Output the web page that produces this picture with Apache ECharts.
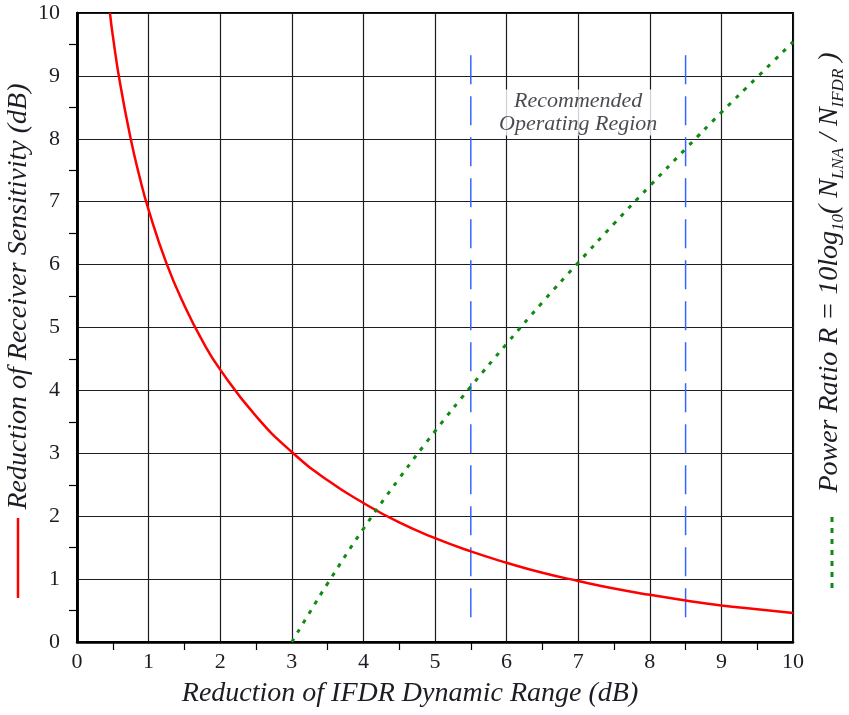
<!DOCTYPE html>
<html>
<head>
<meta charset="utf-8">
<script src="https://cdn.jsdelivr.net/npm/echarts@6/dist/echarts.min.js"></script>
<style>
html, body { margin: 0; padding: 0; background: #fff; }
#container { width: 849px; height: 715px; }
</style>
</head>
<body>
<div id="container"></div>
<script>
// data
var ifdrRed = [0.46, 0.5, 0.6, 0.75, 0.875, 1, 1.25, 1.5, 1.75, 2, 2.5, 3, 3.5, 4, 4.5, 5, 5.5, 6, 6.5, 7, 7.5, 8, 8.5, 9, 9.5, 10];
var sensitivity = [10, 9.64, 8.89, 8.0, 7.39, 6.87, 6.02, 5.35, 4.79, 4.33, 3.59, 3.02, 2.57, 2.21, 1.90, 1.65, 1.44, 1.26, 1.10, 0.97, 0.85, 0.75, 0.66, 0.58, 0.52, 0.46];
var ifdrGreen = [3, 3.25, 3.5, 4, 4.5, 5, 5.5, 6, 6.5, 7, 7.5, 8, 8.5, 9, 9.5, 10];
var powerRatio = [0, 0.47, 0.93, 1.80, 2.60, 3.35, 4.06, 4.74, 5.40, 6.03, 6.65, 7.25, 7.84, 8.42, 8.98, 9.54];
var regionX = [5.5, 8.5];
var regionY = [9.33, 0.3];
var regionLabel = [7, 8.42];

var serif = "'Liberation Serif', 'DejaVu Serif', serif";
var ink = '#1c1c24';

var redData = ifdrRed.map(function (x, i) { return [x, sensitivity[i]]; });
var greenData = ifdrGreen.map(function (x, i) { return [x, powerRatio[i]]; });

var myChart = echarts.init(document.getElementById('container'));

var blueLines = regionX.map(function (x) {
    return {
        type: 'line',
        data: [[x, regionY[0]], [x, regionY[1]]],
        symbol: 'none',
        silent: true,
        lineStyle: { color: '#3366ff', width: 1.5, type: [29, 12] },
        z: 3
    };
});

var option = {
    animation: false,
    grid: {
        left: 77, right: 56, top: 13, bottom: 73,
        containLabel: false, outerBoundsMode: 'none',
        show: true, borderColor: '#000', borderWidth: 2, backgroundColor: 'transparent'
    },
    xAxis: {
        type: 'value', min: 0, max: 10, interval: 1,
        axisLine: { show: true, onZero: false, lineStyle: { color: '#000', width: 2.5 } },
        axisTick: { show: false },
        minorTick: { show: true, splitNumber: 2, length: 8, lineStyle: { color: '#000', width: 1.2 } },
        splitLine: { show: true, lineStyle: { color: ink, width: 1.2 } },
        axisLabel: { fontFamily: serif, fontSize: 22, color: ink, margin: 9 },
        name: 'Reduction of IFDR Dynamic Range (dB)',
        nameLocation: 'middle',
        nameGap: 38,
        nameMoveOverlap: false,
        nameTextStyle: { fontFamily: serif, fontStyle: 'italic', fontSize: 28, color: ink, padding: [0, 50, 0, 0] }
    },
    yAxis: [{
        type: 'value', min: 0, max: 10, interval: 1,
        axisLine: { show: true, onZero: false, lineStyle: { color: '#000', width: 2.5 } },
        axisTick: { show: false },
        minorTick: { show: true, splitNumber: 2, length: 8, lineStyle: { color: '#000', width: 1.2 } },
        splitLine: { show: true, lineStyle: { color: ink, width: 1.2 } },
        axisLabel: { fontFamily: serif, fontSize: 22, color: ink, margin: 17 },
        name: 'Reduction of Receiver Sensitivity (dB)',
        nameLocation: 'middle',
        nameGap: 44,
        nameMoveOverlap: false,
        nameTextStyle: { fontFamily: serif, fontStyle: 'italic', fontSize: 28, color: ink, padding: [0, 0, 0, 62] }
    }, {
        type: 'value', min: 0, max: 10, position: 'right',
        axisLine: { show: true, lineStyle: { color: '#000', width: 2.5 } },
        axisTick: { show: false },
        axisLabel: { show: false },
        splitLine: { show: false },
        name: '{a|Power Ratio R = 10log}{s|10}{a|( N}{s|LNA}{a| / N}{s|IFDR}{a| )}',
        nameLocation: 'middle',
        nameGap: 20,
        nameMoveOverlap: false,
        nameTextStyle: {
            padding: [0, 0, 0, 110],
            rich: {
                a: { fontFamily: serif, fontStyle: 'italic', fontSize: 28, color: ink, lineHeight: 34 },
                s: { fontFamily: serif, fontStyle: 'italic', fontSize: 17, color: ink, lineHeight: 17, verticalAlign: 'bottom' }
            }
        }
    }],
    series: [{
        type: 'line',
        data: redData,
        smooth: true,
        symbol: 'none',
        lineStyle: { color: '#ff0000', width: 2.5 },
        z: 4
    }, {
        type: 'line',
        data: greenData,
        smooth: true,
        symbol: 'none',
        lineStyle: { color: '#108a10', width: 3, type: [4, 7] },
        z: 4
    }].concat(blueLines).concat([{
        type: 'scatter',
        data: [regionLabel],
        symbolSize: 0,
        silent: true,
        label: {
            show: true,
            position: 'inside',
            formatter: 'Recommended\nOperating Region',
            fontFamily: serif, fontStyle: 'italic', fontSize: 22, color: ink, lineHeight: 23,
            backgroundColor: '#fff'
        },
        z: 5
    }]),
    graphic: [{
        type: 'line',
        shape: { x1: 18, y1: 518, x2: 18, y2: 598 },
        style: { stroke: '#ff0000', lineWidth: 2.5 }
    }, {
        type: 'line',
        shape: { x1: 832, y1: 517, x2: 832, y2: 594 },
        style: { stroke: '#108a10', lineWidth: 3, lineDash: [5, 6] }
    }]
};

myChart.setOption(option);
</script>
</body>
</html>
